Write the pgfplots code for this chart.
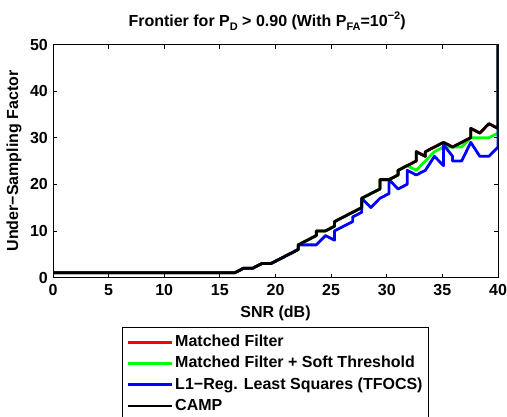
\documentclass[border=0pt]{standalone}
\usepackage{fontspec}
\setmainfont{Liberation Sans}
\usepackage{pgfplots}
\pgfplotsset{compat=1.18}

\newcommand\lbl{\fontsize{16bp}{19bp}\selectfont\bfseries}
\newcommand\sub[1]{\raisebox{-0.45ex}{\fontsize{11bp}{13bp}\selectfont #1}}
\newcommand\sups[1]{\raisebox{0.9ex}{\fontsize{11bp}{13bp}\selectfont #1}}

\begin{document}
\begin{tikzpicture}
  \begin{axis}[
      at={(0,0)}, anchor=south west,
      scale only axis, width=445bp, height=233bp,
      xmin=0, xmax=40, ymin=0, ymax=50,
      xtick={0,5,...,40}, ytick={0,10,...,50},
      tick align=inside, major tick length=4bp,
      tick style={black, line width=0.8bp},
      axis line style={black, line width=1bp},
      ticklabel style={font=\lbl},
      /pgf/number format/assume math mode=true,
      xticklabel style={inner sep=0bp, yshift=-6.5bp},
      yticklabel style={inner sep=0bp, xshift=-5bp},
      legend cell align=left,
      legend style={at={(0.5,-0.2112)}, anchor=north, draw=black,
        line width=1bp, inner xsep=4bp, inner ysep=4.5bp, row sep=0bp,
        font=\lbl, nodes={inner sep=2bp, text height=13bp, text depth=4.2bp}},
      legend image code/.code={\draw[#1] (0bp,0bp) -- (44bp,0bp);},
      every axis plot/.append style={line width=2.8bp, line join=round},
    ]
    % matched filter (hidden under CAMP)
    \addplot[red] coordinates {
      (0,1) (16.327,1) (17.143,2) (17.959,2) (18.776,3) (19.592,3)
      (20.408,4) (21.224,5) (22.041,6) (22.041,7) (22.857,8) (23.673,9)
      (23.673,10) (24.490,10) (25.306,11) (25.306,12) (26.122,13)
      (26.939,14) (27.755,15) (27.755,17) (28.571,18) (29.388,19)
      (29.388,21) (30.204,21) (31.020,22) (31.020,23) (31.837,24)
      (32.653,25) (32.653,27) (33.469,26) (33.469,27) (34.286,28)
      (35.102,29) (35.918,28) (36.735,29) (37.551,30) (37.551,32)
      (38.367,31) (39.184,33) (40,32) (40,50)
    };
    \addlegendentry{Matched Filter}
    % matched filter + soft threshold
    \addplot[green] coordinates {
      (0,1) (16.327,1) (17.143,2) (17.959,2) (18.776,3) (19.592,3)
      (20.408,4) (21.224,5) (22.041,6) (22.041,7) (22.857,8) (23.673,9)
      (23.673,10) (24.490,10) (25.306,11) (25.306,12) (26.122,13)
      (26.939,14) (27.755,15) (27.755,17) (28.571,18) (29.388,19)
      (29.388,21) (30.204,21) (31.020,22) (31.020,23) (31.837,24)
      (32.653,23) (33.469,25) (34.286,27) (35.102,28) (35.918,28)
      (36.735,28) (37.551,30) (38.367,30) (39.184,30) (40,31) (40,50)
    };
    \addlegendentry{Matched Filter + Soft Threshold}
    % l1 least squares
    \addplot[blue] coordinates {
      (0,1) (16.327,1) (17.143,2) (17.959,2) (18.776,3) (19.592,3)
      (20.408,4) (21.224,5) (22.041,6) (22.041,7) (23.673,7) (24.490,9)
      (25.306,8) (25.306,10) (26.122,11) (26.939,12) (26.939,13)
      (27.755,14) (27.755,17) (28.571,15) (29.388,17) (30.204,18)
      (30.204,21) (31.020,19) (31.837,20) (31.837,23) (32.653,22)
      (33.469,23) (34.286,26) (35.102,24) (35.102,28.5) (35.918,26)
      (35.918,25) (36.735,25) (37.551,29) (38.367,26) (39.184,26)
      (40,28) (40,50)
    };
    \addlegendentry{L1−Reg. Least Squares (TFOCS)}
    % CAMP
    \addplot[black] coordinates {
      (0,1) (16.327,1) (17.143,2) (17.959,2) (18.776,3) (19.592,3)
      (20.408,4) (21.224,5) (22.041,6) (22.041,7) (22.857,8) (23.673,9)
      (23.673,10) (24.490,10) (25.306,11) (25.306,12) (26.122,13)
      (26.939,14) (27.755,15) (27.755,17) (28.571,18) (29.388,19)
      (29.388,21) (30.204,21) (31.020,22) (31.020,23) (31.837,24)
      (32.653,25) (32.653,27) (33.469,26) (33.469,27) (34.286,28)
      (35.102,29) (35.918,28) (36.735,29) (37.551,30) (37.551,32)
      (38.367,31) (39.184,33) (40,32) (40,50)
    };
    \addlegendentry{CAMP}
  \end{axis}
  \node[font=\lbl, anchor=base west] at (72bp,250.5bp)
    {Frontier for P\sub{D} > 0.90 (With P\sub{FA}=10\sups{−2})};
  \node[font=\lbl, anchor=base] at (222.5bp,-39.5bp) {SNR (dB)};
  \node[font=\lbl, anchor=base, rotate=90] at (-35bp,116.5bp) {Under−Sampling Factor};
  \pgfresetboundingbox
  \path[use as bounding box] (-53bp,-139.5bp) rectangle (454bp,277.5bp);
\end{tikzpicture}
\end{document}
